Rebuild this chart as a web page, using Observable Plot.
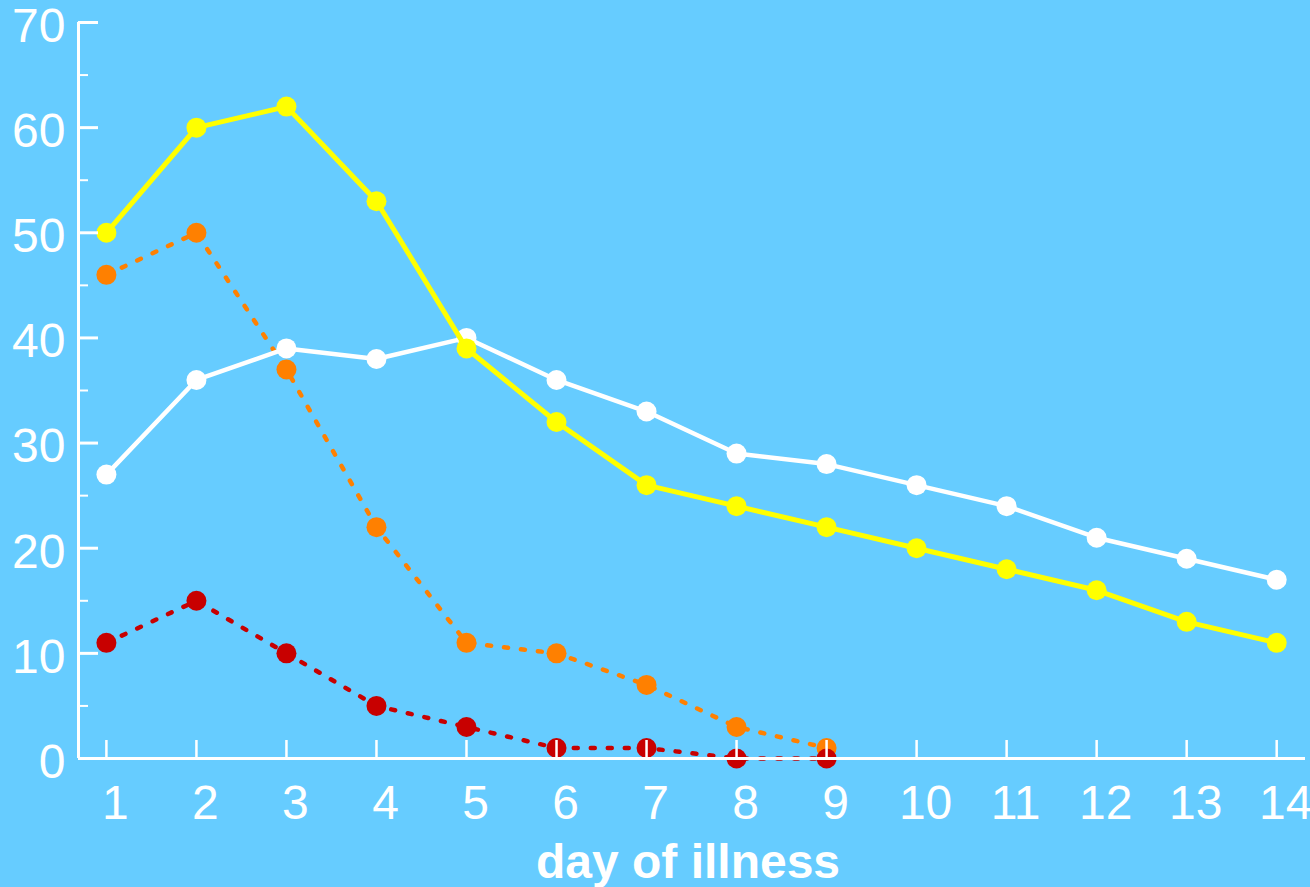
<!DOCTYPE html>
<html>
<head>
<meta charset="utf-8">
<script src="https://cdn.jsdelivr.net/npm/d3@7"></script>
<script src="https://cdn.jsdelivr.net/npm/@observablehq/plot@0.6"></script>
<style>
  html, body { margin: 0; padding: 0; background: #66CCFF; }
  svg { display: block; }
</style>
</head>
<body>
<div id="chart"></div>
<script>
const days = [1, 2, 3, 4, 5, 6, 7, 8, 9, 10, 11, 12, 13, 14];
const whiteSeries = [27, 36, 39, 38, 40, 36, 33, 29, 28, 26, 24, 21, 19, 17];
const yellowSeries = [50, 60, 62, 53, 39, 32, 26, 24, 22, 20, 18, 16, 13, 11];
const orangeDays = [1, 2, 3, 4, 5, 6, 7, 8, 9];
const orangeSeries = [46, 50, 37, 22, 11, 10, 7, 3, 1];
const redDays = [1, 2, 3, 4, 5, 6, 7, 8, 9];
const redSeries = [11, 15, 10, 5, 3, 1, 1, 0, 0];
const yMajorTicks = [0, 10, 20, 30, 40, 50, 60, 70];
const yMinorTicks = [5, 15, 25, 35, 45, 55, 65];
const xTitle = "day of illness";

const toRows = (xs, ys) => xs.map((d, i) => ({day: d, value: ys[i]}));
const white = toRows(days, whiteSeries);
const yellow = toRows(days, yellowSeries);
const orange = toRows(orangeDays, orangeSeries);
const red = toRows(redDays, redSeries);

const font = "Liberation Sans, Arial, Helvetica, sans-serif";
const xMin = 0.69;

const chart = Plot.plot({
  width: 1310,
  height: 887,
  marginLeft: 78,
  marginRight: 5,
  marginTop: 22,
  marginBottom: 129,
  style: {background: "#66CCFF", fontFamily: font, color: "white", overflow: "visible"},
  x: {domain: [xMin, 14.32], axis: null},
  y: {domain: [0, 70], axis: null},
  marks: [
    // dotted series
    Plot.line(orange, {x: "day", y: "value", stroke: "#FF8000", strokeWidth: 4.5, strokeDasharray: "4,13"}),
    Plot.line(red, {x: "day", y: "value", stroke: "#C80000", strokeWidth: 4.5, strokeDasharray: "4,13"}),
    Plot.dot(orange, {x: "day", y: "value", r: 10, fill: "#FF8000"}),
    Plot.dot(red, {x: "day", y: "value", r: 10, fill: "#C80000"}),
    // solid series
    Plot.line(white, {x: "day", y: "value", stroke: "white", strokeWidth: 4.5}),
    Plot.dot(white, {x: "day", y: "value", r: 10, fill: "white"}),
    Plot.line(yellow, {x: "day", y: "value", stroke: "#FFFF00", strokeWidth: 5}),
    Plot.dot(yellow, {x: "day", y: "value", r: 10, fill: "#FFFF00"}),
    // axes lines
    Plot.ruleX([xMin], {stroke: "white", strokeWidth: 3}),
    Plot.ruleY([0], {stroke: "white", strokeWidth: 3}),
    // x ticks (inward) and labels
    Plot.axisX(days, {tickSize: -18, tickFormat: () => "", stroke: "white", strokeWidth: 2.5, label: null}),
    Plot.axisX(days, {tickSize: 0, tickPadding: 26, dx: 9, fontSize: 48, fill: "white", label: null}),
    // y ticks (inward) and labels
    Plot.axisY(yMajorTicks, {tickSize: -20, tickFormat: () => "", stroke: "white", strokeWidth: 3, label: null}),
    Plot.axisY(yMinorTicks, {tickSize: -10, tickFormat: () => "", stroke: "white", strokeWidth: 2, label: null}),
    Plot.axisY(yMajorTicks, {tickSize: 0, tickPadding: 13, dy: 4, fontSize: 48, fill: "white", label: null}),
    // x title
    Plot.text([xTitle], {frameAnchor: "bottom", lineAnchor: "middle", dx: -4, dy: 104, text: d => d, fontSize: 48, fontWeight: "bold", fill: "white", fontFamily: font})
  ]
});
document.getElementById("chart").appendChild(chart);
</script>
</body>
</html>
